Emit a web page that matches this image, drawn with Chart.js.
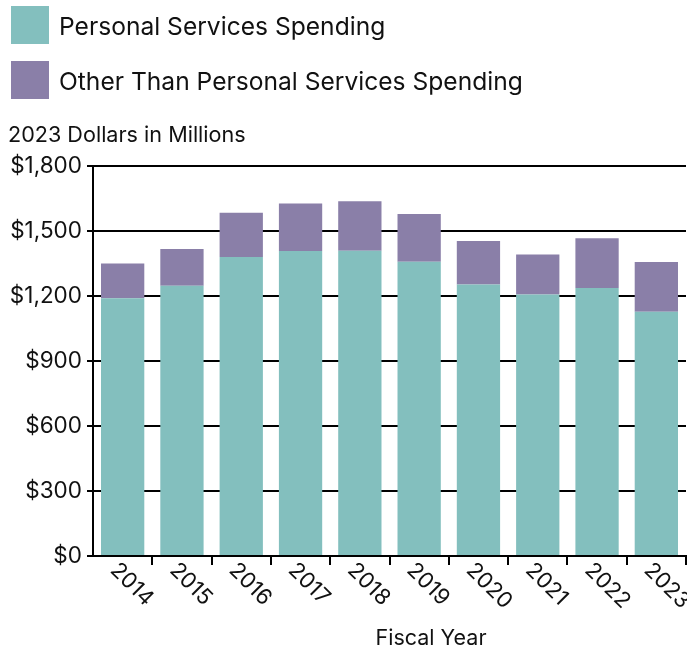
<!DOCTYPE html>
<html>
<head>
<meta charset="utf-8">
<script src="https://cdn.jsdelivr.net/npm/chart.js@4.4.0/dist/chart.umd.min.js"></script>
<style>
  body { margin: 0; background: #fff; }
  canvas { display: block; }
</style>
</head>
<body>
<canvas id="spending" width="687" height="649"></canvas>
<script>
const years = ['2014', '2015', '2016', '2017', '2018', '2019', '2020', '2021', '2022', '2023']
const personalServices = [1190, 1247, 1380, 1408, 1409, 1358, 1253, 1207, 1237, 1127]
const otherThanPersonal = [160, 170, 204, 219, 228, 220, 201, 185, 229, 230]
const yMin = 0
const yMax = 1800
const yStep = 300

const unitsTitle = '2023 Dollars in Millions'
const xTitle = 'Fiscal Year'

const FONT = 'Inter, "Noto Sans", sans-serif'
const INK = '#111'

// legend, units line, rotated year labels and the x title are painted by hand
const annotations = {
  id: 'annotations',
  afterDraw(chart) {
    const {ctx, chartArea} = chart
    const xScale = chart.scales.x
    ctx.save()
    ctx.fillStyle = INK

    // legend: one row per dataset
    ctx.font = `24.6px ${FONT}`
    ctx.textBaseline = 'alphabetic'
    chart.data.datasets.forEach((ds, i) => {
      const top = 6 + i * 55
      ctx.fillStyle = ds.backgroundColor
      ctx.fillRect(11, top, 38, 38)
      ctx.fillStyle = INK
      ctx.fillText(ds.label, 59, top + 29)
    })

    ctx.font = `21.6px ${FONT}`
    ctx.fillText(unitsTitle, 8, 142)

    // year labels, turned 45 degrees and hanging down from each bar
    ctx.font = `22px ${FONT}`
    ctx.textAlign = 'left'
    years.forEach((year, i) => {
      const x = xScale.getPixelForValue(i)
      ctx.save()
      ctx.translate(x - 2, chartArea.bottom + 4)
      ctx.rotate(Math.PI / 4)
      ctx.fillText(year, 0, 16)
      ctx.restore()
    })

    ctx.font = `21.5px ${FONT}`
    ctx.textAlign = 'center'
    ctx.fillText(xTitle, chartArea.left + (chartArea.right - chartArea.left) * 0.57, 645)
    ctx.restore()
  }
}

new Chart(document.getElementById('spending'), {
  type: 'bar',
  data: {
    labels: years,
    datasets: [
      {
        label: 'Personal Services Spending',
        data: personalServices,
        backgroundColor: '#83bfbe',
        barPercentage: 0.73,
        categoryPercentage: 1
      },
      {
        label: 'Other Than Personal Services Spending',
        data: otherThanPersonal,
        backgroundColor: '#8a7fa8',
        barPercentage: 0.73,
        categoryPercentage: 1
      }
    ]
  },
  options: {
    responsive: false,
    animation: false,
    layout: {padding: {top: 166, left: 0, right: 1, bottom: 0}},
    plugins: {
      legend: {display: false},
      tooltip: {enabled: false}
    },
    scales: {
      x: {
        stacked: true,
        afterFit(scale) { scale.height = 93 },
        ticks: {display: false},
        grid: {
          offset: true,
          drawOnChartArea: false,
          tickLength: 9,
          lineWidth: 2,
          color: ctx => ctx.index === 0 ? 'rgba(0,0,0,0)' : '#000'
        },
        border: {color: '#000', width: 2}
      },
      y: {
        stacked: true,
        min: yMin,
        max: yMax,
        afterFit(scale) { scale.width = 93 },
        ticks: {
          stepSize: yStep,
          padding: 5,
          color: INK,
          font: {family: FONT, size: 22.5},
          callback: v => '$' + v.toLocaleString('en-US')
        },
        grid: {color: '#000', lineWidth: 2, tickLength: 6},
        border: {color: '#000', width: 2}
      }
    }
  },
  plugins: [annotations]
})
</script>
</body>
</html>
